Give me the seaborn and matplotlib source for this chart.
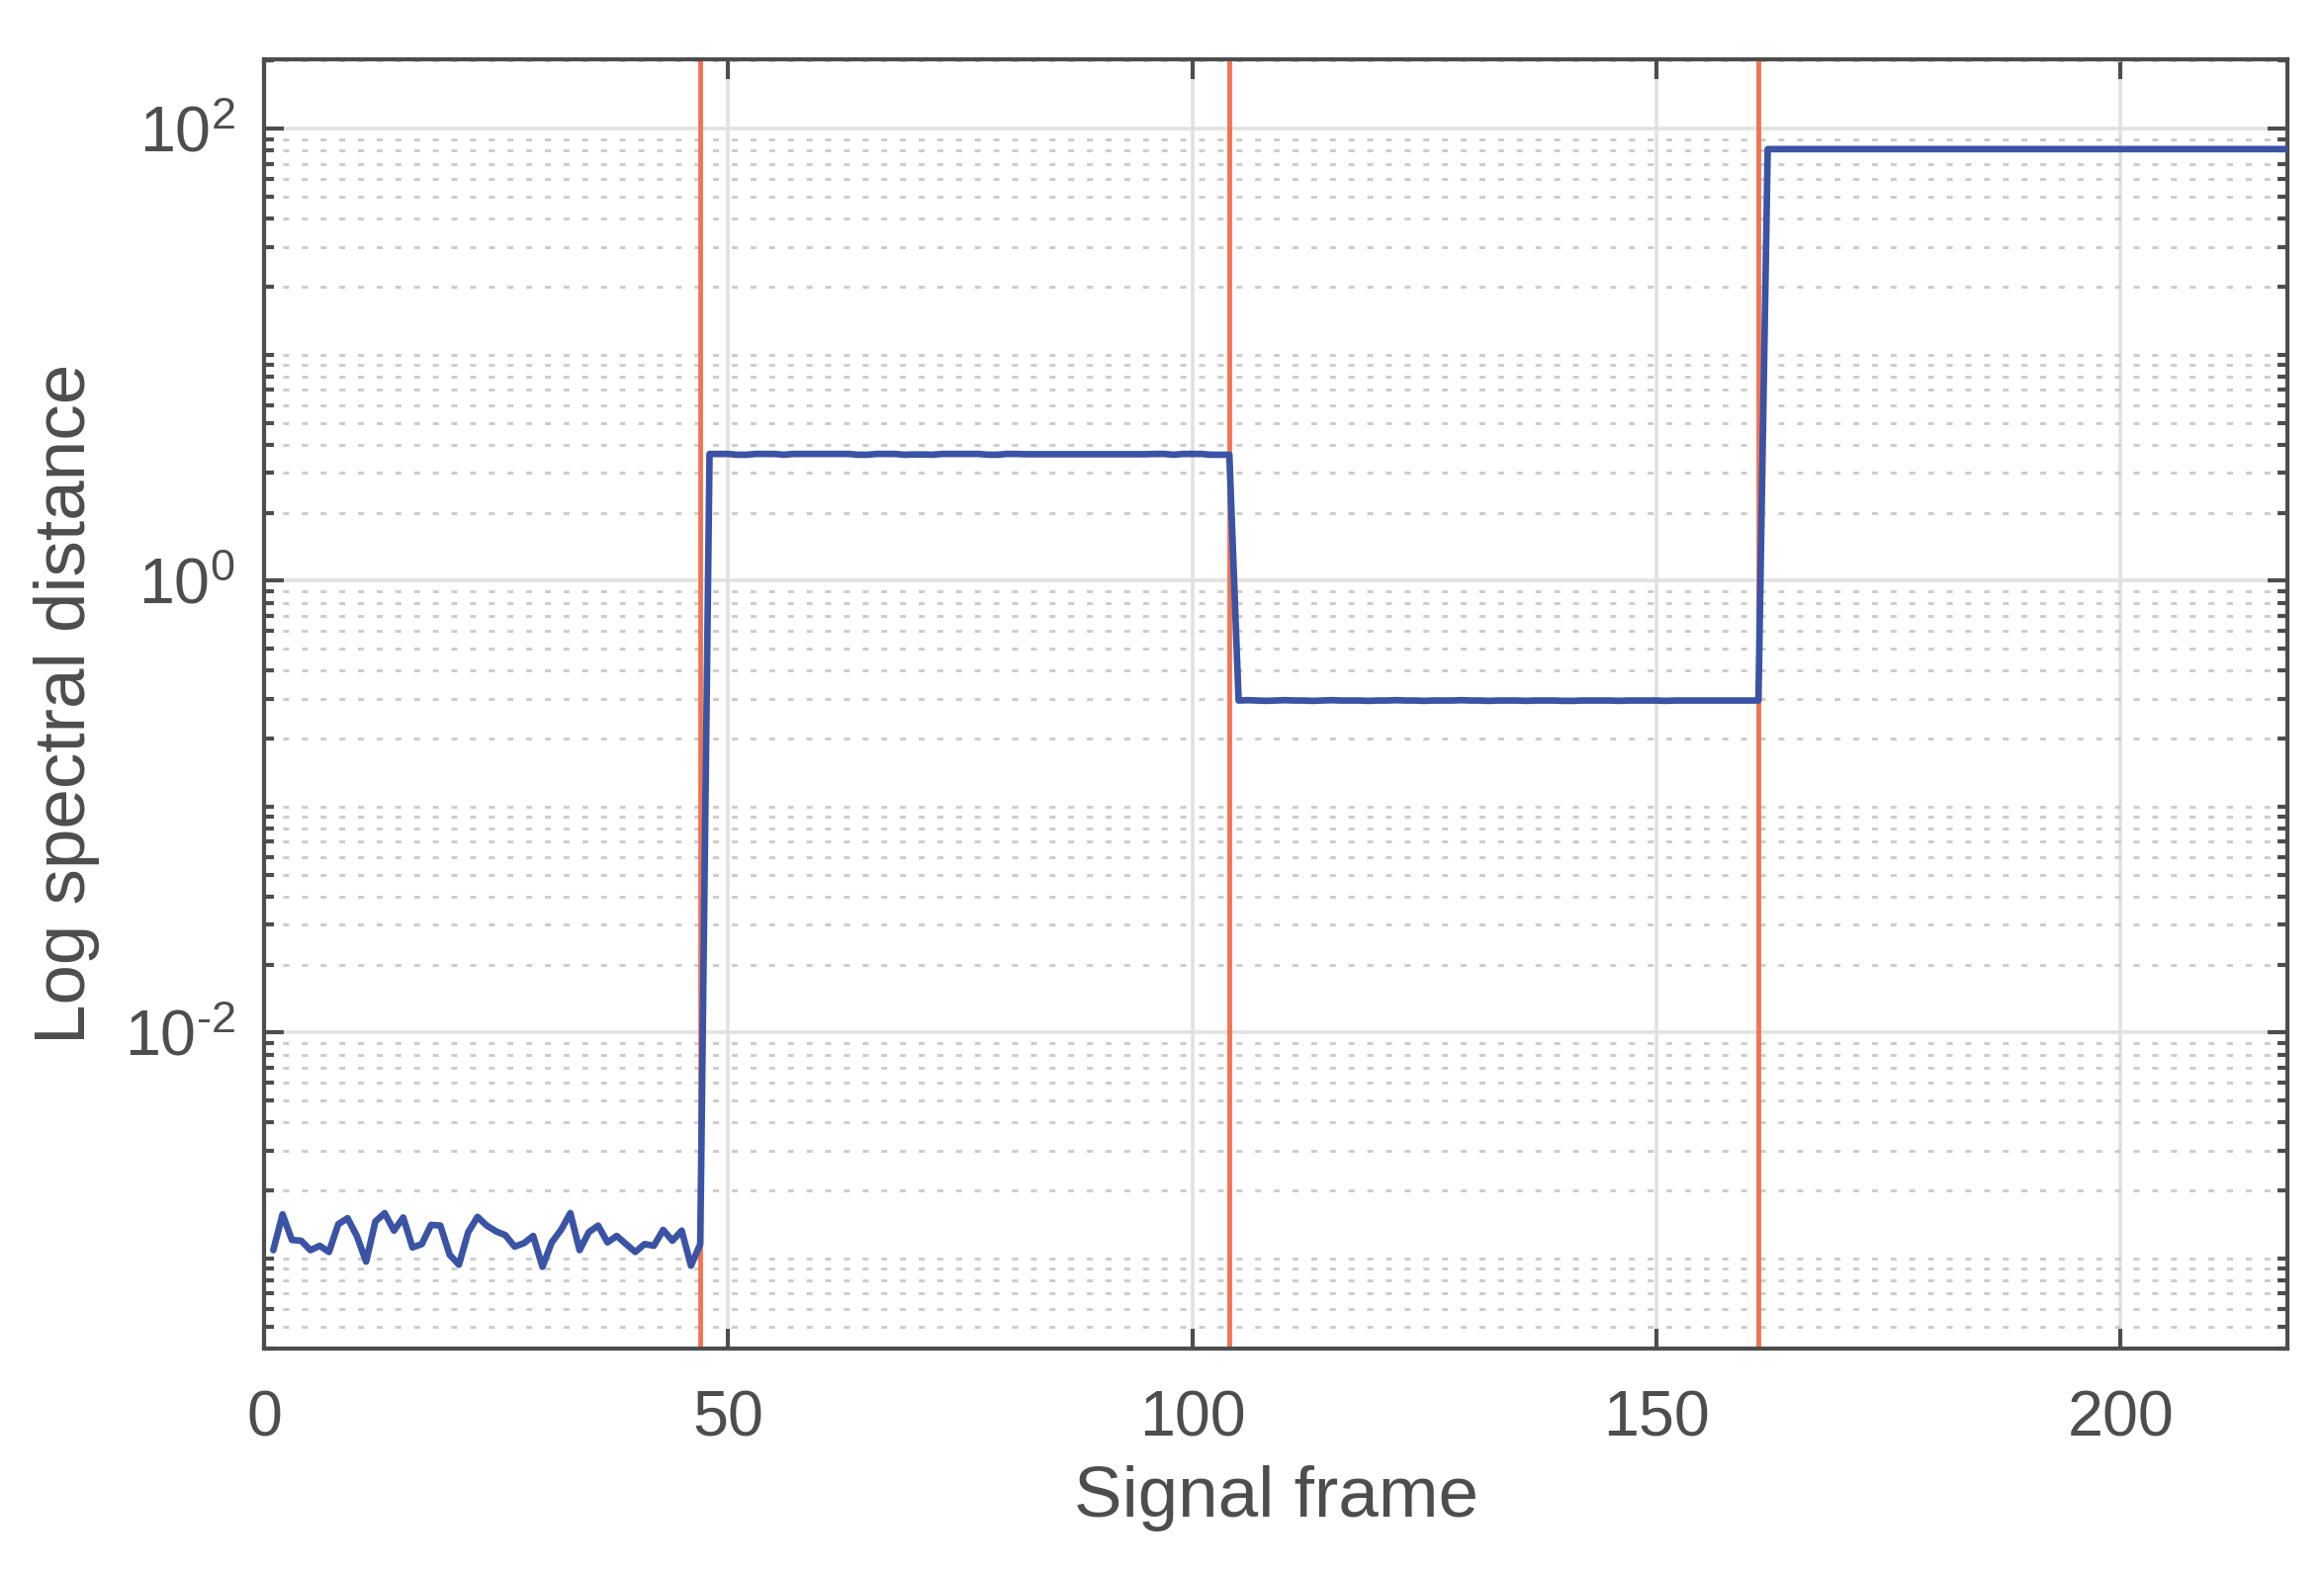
import numpy as np
import pandas as pd
import matplotlib
matplotlib.use("Agg")
import matplotlib.pyplot as plt
import matplotlib.ticker as mticker
import seaborn as sns

# ---------------- data ----------------
noise_values = [1.09e-3, 1.57e-3, 1.21e-3, 1.20e-3, 1.09e-3, 1.14e-3, 1.07e-3, 1.42e-3,
                1.51e-3, 1.26e-3, 0.97e-3, 1.46e-3, 1.59e-3, 1.33e-3, 1.52e-3, 1.12e-3,
                1.16e-3, 1.41e-3, 1.40e-3, 1.04e-3, 0.94e-3, 1.31e-3, 1.53e-3, 1.40e-3,
                1.32e-3, 1.27e-3, 1.13e-3, 1.17e-3, 1.26e-3, 0.92e-3, 1.18e-3, 1.34e-3,
                1.59e-3, 1.09e-3, 1.31e-3, 1.40e-3, 1.18e-3, 1.26e-3, 1.16e-3, 1.07e-3,
                1.16e-3, 1.14e-3, 1.34e-3, 1.20e-3, 1.33e-3, 0.93e-3, 1.16e-3]  # frames 1-47
plateau1_values = [3.64, 3.64, 3.64, 3.61, 3.61, 3.64, 3.64, 3.64, 3.61, 3.64,   # frames 48-57
                   3.64, 3.64, 3.64, 3.64, 3.64, 3.64, 3.61, 3.61, 3.64, 3.64,   # 58-67
                   3.64, 3.61, 3.62, 3.62, 3.61, 3.64, 3.64, 3.64, 3.64, 3.64,   # 68-77
                   3.61, 3.61, 3.64, 3.64, 3.63, 3.63, 3.63, 3.63, 3.63, 3.63,   # 78-87
                   3.63, 3.63, 3.63, 3.63, 3.63, 3.63, 3.63, 3.63, 3.64, 3.64,   # 88-97
                   3.61, 3.64, 3.64, 3.64, 3.61, 3.61, 3.61]                     # 98-104
plateau2_values = [0.295, 0.296, 0.295, 0.294, 0.295, 0.296, 0.295, 0.295, 0.294, 0.295,
                   0.296, 0.295, 0.295, 0.295, 0.294, 0.295, 0.295, 0.296, 0.295, 0.295,
                   0.294, 0.295, 0.295, 0.295, 0.296, 0.295, 0.295, 0.294, 0.295, 0.295,
                   0.295, 0.294, 0.295, 0.295, 0.295, 0.294, 0.294, 0.295, 0.295, 0.295,
                   0.295, 0.294, 0.295, 0.295, 0.295, 0.295, 0.294, 0.295, 0.295, 0.295,
                   0.295, 0.295, 0.295, 0.295, 0.295, 0.295, 0.295]  # frames 105-161
plateau3_level = 81.3   # frames 162-218
n_frames = 218
change_points = [47, 104, 161]

x_ticks = [0, 50, 100, 150, 200]
y_major = [1e-2, 1e0, 1e2]
y_major_labels = [r"$\mathregular{10^{\text{-}2}}$", r"$\mathregular{10^{0}}$", r"$\mathregular{10^{2}}$"]

values = noise_values + plateau1_values + plateau2_values
values = values + [plateau3_level] * (n_frames - len(values))
df = pd.DataFrame({"frame": np.arange(1, len(values) + 1), "dist": values})

# ---------------- style ----------------
sns.set_theme(style="white")
dark = "#4D4D4D"
plt.rcParams["font.family"] = ["Liberation Sans", "DejaVu Sans"]
plt.rcParams["mathtext.fontset"] = "custom"
plt.rcParams["mathtext.rm"] = "Liberation Sans"
plt.rcParams["mathtext.it"] = "Liberation Sans:italic"
plt.rcParams["mathtext.bf"] = "Liberation Sans:bold"

fig = plt.figure(figsize=(2350 / 300, 1591 / 300), dpi=300)
ax = fig.add_axes([0.1136, 0.1427, 0.8707, 0.8196])

ax.set_yscale("log")
ax.set_xlim(0, 218)
ax.set_ylim(4.0e-4, 203)

ax.xaxis.set_major_locator(mticker.FixedLocator(x_ticks))
ax.yaxis.set_major_locator(mticker.FixedLocator(y_major))
ax.yaxis.set_major_formatter(mticker.FixedFormatter(y_major_labels))
minor = []
for k in range(-4, 3):
    for m in range(1, 10):
        v = m * 10.0 ** k
        if any(abs(v - mj) / mj < 1e-9 for mj in y_major):
            continue
        minor.append(v)
ax.yaxis.set_minor_locator(mticker.FixedLocator(minor))
ax.yaxis.set_minor_formatter(mticker.NullFormatter())
ax.xaxis.set_minor_locator(mticker.NullLocator())

ax.grid(which="major", axis="both", color="#E1E1E1", linewidth=0.85, linestyle="-", zorder=0)
ax.grid(which="minor", axis="y", color="#CDCDCD", linewidth=0.72,
        linestyle=(0, (2.0, 4.3)), dash_capstyle="butt", zorder=0)
ax.set_axisbelow(True)

for xc in change_points:
    ax.axvline(xc, color="#F07352", linewidth=1.15, zorder=2)

sns.lineplot(data=df, x="frame", y="dist", ax=ax, color="#3A53A4", linewidth=1.6, zorder=3)

for s in ax.spines.values():
    s.set_color(dark)
    s.set_linewidth(1.0)
    s.set_visible(True)

ax.tick_params(which="both", direction="in", top=True, right=True, left=True, bottom=True,
               colors=dark, labelcolor=dark, labelsize=15.5)
ax.tick_params(which="major", length=4.8, width=1.0)
ax.tick_params(which="minor", length=2.5, width=1.0)
ax.tick_params(axis="x", which="major", pad=10)
ax.tick_params(axis="y", which="major", pad=7)

ax.set_xlabel("Signal frame", fontsize=17.5, color=dark, labelpad=4)
ax.set_ylabel("Log spectral distance", fontsize=17.5, color=dark, labelpad=6)

fig.savefig("out.png", dpi=300, facecolor="white")
